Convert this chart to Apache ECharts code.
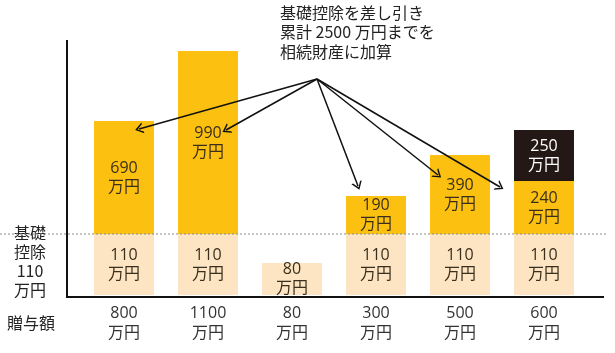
<!DOCTYPE html>
<html>
<head>
<meta charset="utf-8">
<script src="https://cdn.jsdelivr.net/npm/echarts@6/dist/echarts.min.js"></script>
<style>
  html, body { margin: 0; padding: 0; background: #fff; }
  #main { width: 615px; height: 353px; }
</style>
</head>
<body>
<div id="main"></div>
<script>
// 贈与額（x軸ラベル）
const categories = ['800\n万円', '1100\n万円', '80\n万円', '300\n万円', '500\n万円', '600\n万円'];
// 各区分の金額（万円）
const baseAmount = [110, 110, 80, 110, 110, 110];     // 基礎控除部分
const addedAmount = [690, 990, 0, 190, 390, 240];     // 相続財産に加算
const overAmount = [0, 0, 0, 0, 0, 250];              // 2500万円を超える部分
// 図の上での棒の高さ（原図は金額に比例していない）
const baseHeight = [61, 61, 32, 61, 61, 61];
const addedHeight = [113, 183, 0, 38, 79, 53];
const overHeight = [0, 0, 0, 0, 0, 51];

const FONT = '"Open Sans", "Noto Sans CJK JP", sans-serif';
const JFONT = '"Noto Sans CJK JP", "Noto Sans", sans-serif';
const chevron = 'path://M0,10 L5,0 L10,10 L8.4,10 L5,3.2 L1.6,10 Z';

function lab(amounts, color) {
  return {
    show: true,
    position: 'inside',
    fontFamily: FONT,
    fontSize: 16,
    lineHeight: 19,
    color: color,
    formatter: p => amounts[p.dataIndex] ? amounts[p.dataIndex] + '\n万円' : ''
  };
}

const apex = { x: 317, y: 79 };
const arrowTips = [[139, 129], [226, 130], [358, 186], [438, 175], [500, 187]];

let myChart = echarts.init(document.getElementById('main'));
myChart.setOption({
  animation: false,
  grid: { left: 82, right: 29, top: 40, bottom: 58 },
  xAxis: {
    type: 'category',
    data: categories,
    axisLine: { show: false },
    axisTick: { show: false },
    axisLabel: { margin: 8, fontFamily: FONT, fontSize: 16, lineHeight: 20, color: '#333' }
  },
  yAxis: {
    type: 'value',
    min: 0, max: 255,
    show: false,
    splitLine: { show: false }
  },
  series: [
    {
      name: '基礎控除',
      type: 'bar',
      stack: 'a',
      barWidth: 60,
      data: baseHeight,
      itemStyle: { color: '#fde4c3' },
      label: lab(baseAmount, '#3a2f1c')
    },
    {
      name: '加算',
      type: 'bar',
      stack: 'a',
      barWidth: 60,
      data: addedHeight,
      itemStyle: { color: '#fcc010' },
      label: lab(addedAmount, '#3a2f1c')
    },
    {
      name: '超過',
      type: 'bar',
      stack: 'a',
      barWidth: 60,
      data: overHeight,
      itemStyle: { color: '#231815' },
      label: lab(overAmount, '#ffffff'),
      markLine: {
        silent: true,
        animation: false,
        symbol: ['none', chevron],
        symbolSize: [11, 8],
        lineStyle: { color: '#111', width: 1.5, type: 'solid' },
        label: { show: false },
        data: arrowTips.map(t => [{ x: apex.x, y: apex.y }, { x: t[0], y: t[1] }])
      }
    }
  ],
  graphic: [
    // 基礎控除ライン（点線）
    { type: 'line', shape: { x1: 0, y1: 234, x2: 606, y2: 234 },
      style: { stroke: '#8a8a8a', lineWidth: 1, lineDash: [2, 2] }, z: 10 },
    // 軸
    { type: 'line', shape: { x1: 67, y1: 40, x2: 67, y2: 298 },
      style: { stroke: '#111', lineWidth: 2 }, z: 10 },
    { type: 'line', shape: { x1: 66, y1: 297, x2: 604, y2: 297 },
      style: { stroke: '#111', lineWidth: 2 }, z: 10 },
    { type: 'text', left: 280, top: 3,
      style: { text: '基礎控除を差し引き\n累計 2500 万円までを\n相続財産に加算',
               font: '16px ' + JFONT, lineHeight: 19.5, fill: '#222' } },
    { type: 'text', x: 30, y: 261,
      style: { text: '基礎\n控除\n110\n万円', font: '16px ' + JFONT, lineHeight: 19,
               fill: '#222', align: 'center', verticalAlign: 'middle' } },
    { type: 'text', x: 31, y: 323,
      style: { text: '贈与額', font: '16px ' + JFONT,
               fill: '#222', align: 'center', verticalAlign: 'middle' } }
  ]
});
</script>
</body>
</html>
